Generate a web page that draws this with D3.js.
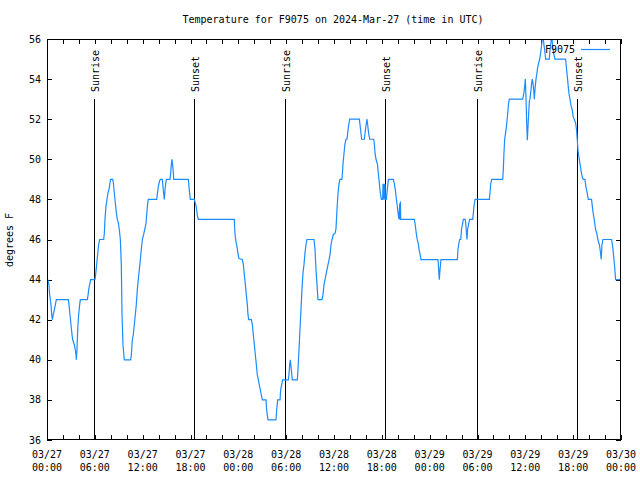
<!DOCTYPE html>
<html><head><meta charset="utf-8">
<script src="https://cdn.jsdelivr.net/npm/d3@7"></script>
<style>
html,body{margin:0;padding:0;background:#fff;}
text{font-family:"DejaVu Sans Mono","Liberation Mono",monospace;font-size:10px;fill:#000;}
</style></head>
<body>
<svg id="c" width="640" height="480"></svg>
<script>
// ---- data ----
const chartTitle = "Temperature for F9075 on 2024-Mar-27 (time in UTC)";
const yAxisLabel = "degrees F";
const seriesName = "F9075";
const startTime = Date.UTC(2024, 2, 27, 0, 0);
const spanHours = 72;
const yTicks = [36, 38, 40, 42, 44, 46, 48, 50, 52, 54, 56];
// hours since 03/27 00:00 UTC
const hours = [
0.0,0.08,0.25,0.33,0.5,0.59,0.67,0.79,0.92,1.05,1.17,2.68,2.76,2.88,3.01,3.14,3.22,3.43,3.55,3.64,3.68,3.76,3.85,3.97,4.10,4.18,
5.06,5.14,5.23,5.35,5.48,6.02,6.10,6.23,6.35,6.48,6.61,7.11,7.19,7.27,7.40,7.53,7.65,7.78,7.90,7.98,8.24,8.32,8.44,8.57,8.70,8.82,
8.95,9.07,9.20,9.32,9.41,9.53,9.70,10.49,10.58,10.70,10.83,10.95,11.08,11.20,11.33,11.45,11.58,11.71,11.83,11.96,12.12,
12.42,12.55,12.63,12.71,13.76,13.80,13.88,13.96,14.09,14.21,14.47,14.55,14.63,14.72,14.80,14.88,14.97,15.43,15.51,15.59,15.68,
15.76,15.85,15.89,17.73,17.81,17.89,17.98,18.48,18.56,18.69,18.77,18.86,18.98,23.50,23.54,23.62,23.71,23.83,23.96,24.08,24.50,
24.63,24.75,24.88,25.0,25.13,25.21,25.30,25.63,25.76,25.88,26.01,26.13,26.26,26.38,26.51,26.63,26.76,26.88,27.01,27.47,27.55,
27.72,28.72,28.81,28.93,29.23,29.31,29.43,29.56,30.27,30.35,30.44,30.52,30.65,30.77,31.40,31.48,31.61,31.73,31.86,31.98,32.11,
32.24,32.36,32.49,32.61,33.49,33.62,33.74,33.87,33.99,34.50,34.62,34.75,34.87,35.0,35.12,35.25,35.38,35.50,35.63,35.75,35.92,
36.13,36.25,36.38,36.50,36.63,36.75,37.0,37.05,37.13,37.25,37.38,37.51,37.63,37.71,37.84,37.97,39.18,39.27,39.39,39.47,39.81,
39.89,40.02,40.14,40.23,40.35,40.48,40.98,41.06,41.15,41.27,41.44,41.57,41.69,41.82,41.94,42.10,42.15,42.19,42.24,42.28,42.32,
42.36,42.40,42.44,42.57,42.69,42.82,43.45,43.57,43.70,43.82,43.95,44.07,44.16,44.24,44.28,44.33,44.37,44.62,46.08,46.2,46.33,
46.45,46.58,46.70,46.83,46.91,49.05,49.13,49.21,49.30,49.42,51.47,51.55,51.64,51.76,51.90,51.99,52.13,52.22,52.47,52.55,52.68,
52.76,52.89,53.02,53.40,53.48,53.56,53.69,55.49,55.57,55.65,55.78,57.16,57.24,57.32,57.41,57.53,57.66,57.78,57.91,58.0,59.67,
59.83,59.96,60.0,60.08,60.17,60.25,60.33,60.42,60.50,60.58,60.71,60.79,60.88,60.96,61.05,61.13,61.21,61.34,61.46,61.55,61.67,
61.80,61.92,62.05,62.17,62.34,62.47,62.55,63.0,63.09,63.21,63.30,63.42,63.55,63.71,65.05,65.14,65.22,65.30,65.39,65.47,65.60,
65.72,65.89,66.01,66.14,66.31,66.43,66.52,66.60,66.73,66.85,66.98,67.15,67.27,67.48,67.61,67.77,67.90,68.30,68.39,68.51,68.64,
68.81,68.97,69.10,69.31,69.44,69.52,69.60,69.73,70.82,70.94,71.07,71.19,71.32,72.0
];
const tempF = [
44,44,43.75,43.25,42.75,42.25,42,42.25,42.5,42.75,43,43,42.75,42.25,41.75,41.25,41,40.75,40.5,40.25,40,40.5,41.5,42.25,42.75,43,
43,43.2,43.5,43.75,44,44,44.25,44.75,45.25,45.75,46,46,46.3,47,47.67,48,48.33,48.5,48.83,49,49,48.83,48.33,47.83,47.33,47,
46.83,46.5,46,44.75,42.25,40.75,40,40,40.25,41,41.25,41.75,42.25,42.75,43.5,44,44.5,45,45.5,46,46.25,
46.8,47.47,47.8,48,48,48.13,48.38,48.63,48.88,49,49,48.63,48.3,48,48.47,48.77,49,49,49.3,49.72,50,
49.72,49.3,49,49,48.63,48.3,48,48,47.88,47.7,47.47,47.2,47,47,46.55,46.13,45.88,45.63,45.3,45.05,45,
44.75,44.25,43.75,43.25,42.75,42.25,42,42,41.75,41.25,40.75,40.25,39.75,39.25,39,38.75,38.5,38.25,38,38,37.5,
37,37,37.5,38,38,38.5,38.75,39,39,39.25,39.75,40,39.5,39,39,39.5,40.5,41.5,42.5,43.5,44.33,
44.75,45.33,45.75,46,46,45.5,44.5,43.75,43,43,43.25,43.75,44,44.25,44.5,44.75,45,45.25,45.75,46,46.25,
46.3,46.53,47.53,48.28,48.78,49,49,49.28,49.78,50.28,50.78,51,51,51.28,51.7,52,52,51.7,51.28,51,51,
51.28,51.7,52,51.7,51.28,51,51,50.78,50.28,50,49.78,49.28,48.78,48.28,48,48,48.78,48,48.78,48,48.78,
48,48.78,48,48,48.5,49,49,48.78,48.45,48.03,47.62,47.2,47,47.8,47,47.9,47,47,47,46.7,46.28,
45.98,45.78,45.45,45.2,45,45,44.5,44,44.5,45,45,45.5,45.75,46,46,46.5,46.78,47,47,46.67,46,
46.5,46.78,47,47,47.33,47.67,48,48,48.33,48.75,49,49,49.5,50.33,51,51.33,51.75,52.25,52.83,53,53,
53.33,53.83,54,53.1,51.8,50.95,51.6,52.3,52.9,53,53.45,53.8,54,53.8,53.45,53,53.5,54,54.3,54.6,54.8,
55,55.3,55.7,56.3,55.7,55.3,55,55,55.45,55.8,56.2,55.7,55.3,55,55,54.6,54.3,54,53.6,53.3,53,
52.7,52.45,52.1,52,51.8,51.45,50.95,50.45,50.1,49.8,49.45,49.1,49,49,48.6,48.3,48,48,47.7,47.3,47,
46.5,46.3,46,45.7,45.3,45,45.7,46,46,45.7,45.2,44.7,44,44
];
const sunEventHours = [5.93, 18.40, 29.89, 42.44, 53.90, 66.52];
const sunEventLabels = ["Sunrise", "Sunset", "Sunrise", "Sunset", "Sunrise", "Sunset"];

// ---- drawing ----
const H = 3600 * 1000;
const toDate = h => new Date(startTime + h * H);
const M = {left: 47, right: 621, top: 39, bottom: 440};
const svg = d3.select("#c");
const x = d3.scaleUtc().domain([toDate(0), toDate(spanHours)]).range([M.left, M.right]);
const y = d3.scaleLinear().domain([36, 56]).range([M.bottom, M.top]);

svg.append("defs").append("clipPath").attr("id", "clip")
  .append("rect").attr("x", M.left).attr("y", M.top)
  .attr("width", M.right - M.left).attr("height", M.bottom - M.top);

// title
svg.append("text").attr("x", 333).attr("y", 23).attr("text-anchor", "middle").text(chartTitle);

// ticks (inward, all four sides)
const tickLen = 5;
const xMinor = d3.range(0, spanHours + 0.01, 2).map(toDate);
const xMajor = d3.range(0, spanHours + 0.01, 6).map(toDate);
const tk = svg.append("g").attr("stroke", "#000").attr("stroke-width", 1).attr("shape-rendering", "crispEdges");
xMinor.forEach(d => {
  const px = Math.round(x(d)) + 0.5;
  tk.append("line").attr("x1", px).attr("x2", px).attr("y1", M.bottom).attr("y2", M.bottom - tickLen);
  tk.append("line").attr("x1", px).attr("x2", px).attr("y1", M.top).attr("y2", M.top + tickLen);
});
yTicks.forEach(v => {
  const py = Math.round(y(v)) + 0.5;
  tk.append("line").attr("x1", M.left).attr("x2", M.left + tickLen).attr("y1", py).attr("y2", py);
  tk.append("line").attr("x1", M.right).attr("x2", M.right - tickLen).attr("y1", py).attr("y2", py);
});

// y tick labels
const fmtD = d3.utcFormat("%m/%d"), fmtT = d3.utcFormat("%H:%M");
yTicks.forEach(v => {
  svg.append("text").attr("x", 41).attr("y", y(v)).attr("dy", "0.35em")
    .attr("text-anchor", "end").text(v);
});
// x tick labels
xMajor.forEach(d => {
  const t = svg.append("text").attr("x", x(d)).attr("text-anchor", "middle");
  t.append("tspan").attr("x", x(d)).attr("y", 458).text(fmtD(d));
  t.append("tspan").attr("x", x(d)).attr("y", 471).text(fmtT(d));
});

// y axis label
svg.append("text").attr("transform", "translate(13,240) rotate(-90)")
  .attr("text-anchor", "middle").text(yAxisLabel);

// sunrise / sunset
sunEventHours.forEach((h, i) => {
  const px = Math.round(x(toDate(h))) + 0.5;
  svg.append("line").attr("x1", px).attr("x2", px).attr("y1", 99).attr("y2", M.bottom)
    .attr("stroke", "#000").attr("stroke-width", 1).attr("shape-rendering", "crispEdges");
  svg.append("text").attr("transform", `translate(${px + 4},92) rotate(-90)`)
    .attr("text-anchor", "start").text(sunEventLabels[i]);
});

// data line
const pts = hours.map((h, i) => [toDate(h), tempF[i]]);
const line = d3.line().x(d => x(d[0])).y(d => y(d[1]));
svg.append("path").datum(pts).attr("d", line).attr("clip-path", "url(#clip)")
  .attr("fill", "none").attr("stroke", "#1a8cff").attr("stroke-width", 1.2);

// legend
svg.append("text").attr("x", 575).attr("y", 49).attr("dy", "0.35em").attr("text-anchor", "end").text(seriesName);
svg.append("line").attr("x1", 581).attr("x2", 610).attr("y1", 49.5).attr("y2", 49.5)
  .attr("stroke", "#1a8cff").attr("stroke-width", 1.2);

// frame
svg.append("rect").attr("x", M.left + 0.5).attr("y", M.top + 0.5)
  .attr("width", M.right - M.left - 1).attr("height", M.bottom - M.top - 1)
  .attr("fill", "none").attr("stroke", "#000").attr("stroke-width", 1).attr("shape-rendering", "crispEdges");
</script>
</body></html>
